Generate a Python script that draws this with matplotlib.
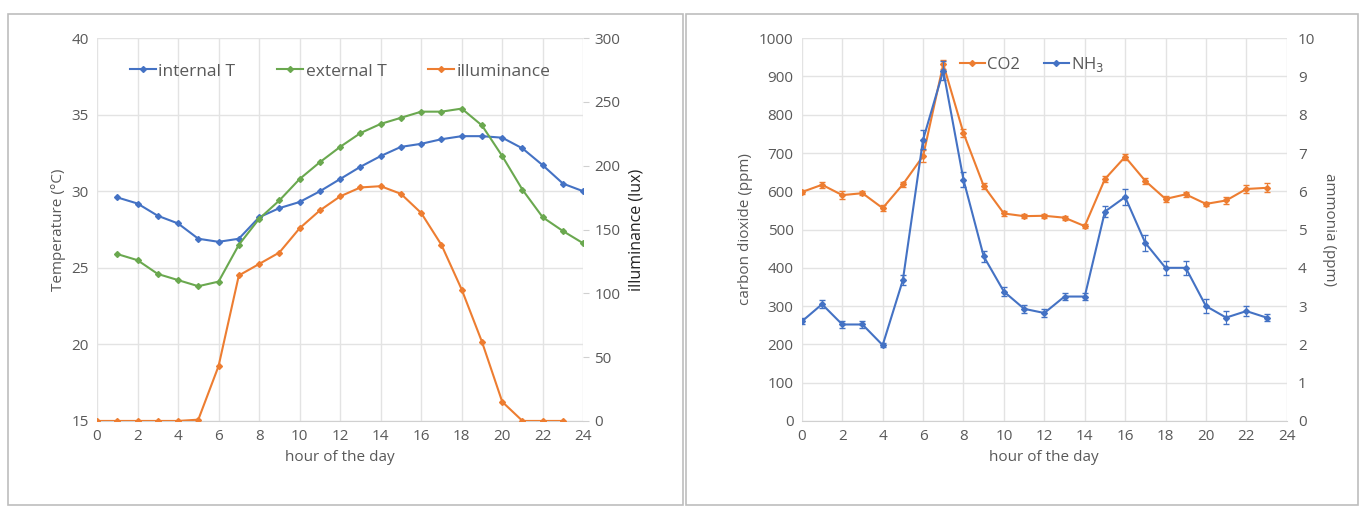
import matplotlib
import matplotlib.pyplot as plt
from matplotlib.patches import Rectangle

matplotlib.use('Agg')

# left panel data
hours_t = list(range(1, 25))
internal_t = [29.6, 29.2, 28.4, 27.9, 26.9, 26.7, 26.9, 28.3, 28.9, 29.3, 30.0, 30.8,
              31.6, 32.3, 32.9, 33.1, 33.4, 33.6, 33.6, 33.5, 32.8, 31.7, 30.5, 30.0]
external_t = [25.9, 25.5, 24.6, 24.2, 23.8, 24.1, 26.5, 28.2, 29.4, 30.8, 31.9, 32.9,
              33.8, 34.4, 34.8, 35.2, 35.2, 35.4, 34.3, 32.3, 30.1, 28.3, 27.4, 26.6]
hours_lux = list(range(0, 24))
illuminance = [0, 0, 0, 0, 0, 1, 43, 114, 123, 132, 151, 165,
               176, 183, 184, 178, 163, 138, 103, 62, 15, 0, 0, 0]

# right panel data
hours_gas = list(range(0, 24))
co2 = [598, 617, 590, 595, 556, 618, 692, 932, 752, 614, 542, 535,
       536, 531, 509, 632, 690, 627, 580, 592, 567, 576, 606, 609]
co2_err = [6, 8, 10, 6, 8, 6, 15, 12, 10, 8, 6, 5,
           5, 5, 5, 8, 8, 8, 8, 6, 6, 8, 10, 12]
nh3 = [2.6, 3.05, 2.52, 2.52, 1.98, 3.68, 7.35, 9.15, 6.3, 4.3, 3.38, 2.93,
       2.82, 3.25, 3.25, 5.47, 5.85, 4.65, 4.0, 4.0, 3.0, 2.7, 2.87, 2.7]
nh3_err = [0.08, 0.1, 0.08, 0.08, 0.06, 0.12, 0.25, 0.25, 0.2, 0.15, 0.12, 0.1,
           0.1, 0.1, 0.1, 0.15, 0.22, 0.22, 0.18, 0.18, 0.18, 0.18, 0.12, 0.1]

BLUE = '#4472C4'
ORANGE = '#ED7D31'
GREEN = '#6AA84F'
GREY = '#595959'
GRID = '#E3E3E3'

plt.rcParams['font.family'] = ['Open Sans', 'DejaVu Sans']
plt.rcParams['font.size'] = 10

fig = plt.figure(figsize=(13.66, 5.09), dpi=100)

# panel frames
fig.patches.append(Rectangle((0.006, 0.008), 0.494, 0.965, transform=fig.transFigure,
                             fill=False, edgecolor='#BDBDBD', linewidth=1.2))
fig.patches.append(Rectangle((0.502, 0.008), 0.492, 0.965, transform=fig.transFigure,
                             fill=False, edgecolor='#BDBDBD', linewidth=1.2))


def style_axes(ax, twin):
    for s in ['top', 'left', 'right']:
        ax.spines[s].set_visible(False)
        twin.spines[s].set_visible(False)
    ax.spines['bottom'].set_color('#D0D0D0')
    twin.spines['bottom'].set_visible(False)
    ax.tick_params(axis='both', colors=GREY, labelsize=11, length=0, pad=6)
    twin.tick_params(axis='y', colors=GREY, labelsize=11, length=4, pad=4)
    twin.tick_params(axis='y', color='#D0D0D0')
    ax.grid(True, color=GRID, linewidth=1)
    ax.set_axisbelow(True)
    ax.set_xlim(0, 24)
    ax.set_xticks(range(0, 25, 2))
    ax.set_xlabel('hour of the day', color=GREY, fontsize=11)


mk = dict(marker='D', markersize=3, linewidth=1.5)

# left panel
ax1 = fig.add_axes([0.071, 0.173, 0.356, 0.752])
ax1b = ax1.twinx()
l1, = ax1.plot(hours_t, internal_t, color=BLUE, label='internal T', **mk)
l2, = ax1.plot(hours_t, external_t, color=GREEN, label='external T', **mk)
l3, = ax1b.plot(hours_lux, illuminance, color=ORANGE, label='illuminance', **mk)
ax1.set_ylim(15, 40)
ax1.set_yticks(range(15, 41, 5))
ax1b.set_ylim(0, 300)
ax1b.set_yticks(range(0, 301, 50))
style_axes(ax1, ax1b)
ax1.set_ylabel('Temperature (°C)', color=GREY, fontsize=11)
ax1b.set_ylabel('illuminance (lux)', color='#222222', fontsize=11.5, rotation=90, labelpad=6)
ax1.legend(handles=[l1, l2, l3], loc='upper center', bbox_to_anchor=(0.5, 0.975), ncol=3,
           frameon=False, fontsize=12.5, handlelength=1.5, handletextpad=0.15, columnspacing=2.4,
           labelcolor=GREY)

# right panel
ax2 = fig.add_axes([0.587, 0.173, 0.355, 0.752])
ax2b = ax2.twinx()
l4 = ax2.errorbar(hours_gas, co2, yerr=co2_err, color=ORANGE, capsize=2, elinewidth=0.8,
                  label='CO2', **mk)
l5 = ax2b.errorbar(hours_gas, nh3, yerr=nh3_err, color=BLUE, capsize=2, elinewidth=0.8,
                   label='NH$_3$', **mk)
ax2.set_ylim(0, 1000)
ax2.set_yticks(range(0, 1001, 100))
ax2b.set_ylim(0, 10)
ax2b.set_yticks(range(0, 11))
style_axes(ax2, ax2b)
ax2b.tick_params(axis='y', length=0, pad=8)
ax2.set_ylabel('carbon dioxide (ppm)', color=GREY, fontsize=11)
ax2b.set_ylabel('ammonia (ppm)', color=GREY, fontsize=11, rotation=270, labelpad=16)
ax2.legend(handles=[l4[0], l5[0]], labels=['CO2', 'NH$_3$'], loc='upper center',
           bbox_to_anchor=(0.475, 0.995), ncol=2, frameon=False, fontsize=12, handlelength=1.5,
           handletextpad=0.15, columnspacing=1.4, labelcolor=GREY)

fig.savefig('out.png', dpi=100)
